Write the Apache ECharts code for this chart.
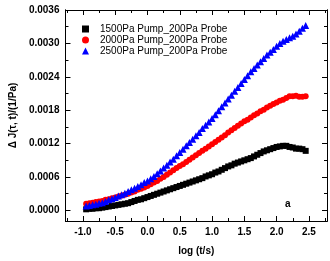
<!DOCTYPE html>
<html>
<head>
<meta charset="utf-8">
<script src="https://cdn.jsdelivr.net/npm/echarts@6/dist/echarts.min.js"></script>
<style>html,body{margin:0;padding:0;background:#fff}#c{width:330px;height:261px}</style>
</head>
<body>
<div id="c"></div>
<script>
const logT = [-0.95,-0.90,-0.85,-0.80,-0.75,-0.70,-0.65,-0.60,-0.55,-0.50,-0.45,-0.40,-0.35,-0.30,-0.25,-0.20,-0.15,-0.10,-0.05,0.00,0.05,0.10,0.15,0.20,0.25,0.30,0.35,0.40,0.45,0.50,0.55,0.60,0.65,0.70,0.75,0.80,0.85,0.90,0.95,1.00,1.05,1.10,1.15,1.20,1.25,1.30,1.35,1.40,1.45,1.50,1.55,1.60,1.65,1.70,1.75,1.80,1.85,1.90,1.95,2.00,2.05,2.10,2.15,2.20,2.25,2.30,2.35,2.40,2.45];
const j1500 = [0.00002,0.00003,0.00003,0.00004,0.00004,0.00005,0.00006,0.00007,0.00008,0.00009,0.00010,0.00011,0.00012,0.00013,0.00015,0.00017,0.00019,0.00020,0.00022,0.00024,0.00026,0.00028,0.00030,0.00032,0.00034,0.00036,0.00038,0.00040,0.00042,0.00044,0.00046,0.00048,0.00050,0.00052,0.00054,0.00056,0.00058,0.00061,0.00063,0.00065,0.00068,0.00070,0.00073,0.00076,0.00079,0.00081,0.00084,0.00086,0.00088,0.00090,0.00092,0.00094,0.00097,0.00100,0.00103,0.00106,0.00108,0.00110,0.00112,0.00114,0.00115,0.00116,0.00116,0.00114,0.00113,0.00111,0.00111,0.00110,0.00107];
const j2000 = [0.00012,0.00013,0.00014,0.00015,0.00016,0.00017,0.00019,0.00020,0.00022,0.00023,0.00025,0.00027,0.00028,0.00030,0.00032,0.00034,0.00037,0.00039,0.00041,0.00044,0.00047,0.00050,0.00053,0.00057,0.00060,0.00064,0.00068,0.00072,0.00076,0.00080,0.00083,0.00087,0.00091,0.00095,0.00099,0.00103,0.00107,0.00111,0.00115,0.00119,0.00123,0.00127,0.00131,0.00135,0.00140,0.00144,0.00148,0.00152,0.00156,0.00160,0.00163,0.00167,0.00171,0.00174,0.00178,0.00181,0.00185,0.00188,0.00191,0.00194,0.00197,0.00199,0.00202,0.00205,0.00205,0.00206,0.00204,0.00204,0.00205];
const j2500 = [0.00008,0.00009,0.00010,0.00011,0.00013,0.00014,0.00016,0.00019,0.00021,0.00023,0.00026,0.00028,0.00031,0.00034,0.00037,0.00040,0.00043,0.00046,0.00050,0.00053,0.00057,0.00061,0.00066,0.00071,0.00076,0.00081,0.00087,0.00092,0.00098,0.00104,0.00110,0.00116,0.00122,0.00128,0.00134,0.00140,0.00147,0.00153,0.00159,0.00165,0.00172,0.00179,0.00186,0.00193,0.00200,0.00207,0.00214,0.00221,0.00228,0.00235,0.00242,0.00249,0.00255,0.00261,0.00267,0.00273,0.00279,0.00284,0.00289,0.00295,0.00300,0.00304,0.00307,0.00310,0.00313,0.00317,0.00322,0.00327,0.00332];
const seriesNames = ['1500Pa Pump_200Pa Probe','2000Pa Pump_200Pa Probe','2500Pa Pump_200Pa Probe'];
const xMajor = [-1.0,-0.5,0.0,0.5,1.0,1.5,2.0,2.5];
const xMinor = [-1.25,-0.75,-0.25,0.25,0.75,1.25,1.75,2.25,2.75];
const yMajor = [0,0.0006,0.0012,0.0018,0.0024,0.0030,0.0036];
const yMinor = [0.0003,0.0009,0.0015,0.0021,0.0027,0.0033];
const xTitle = 'log (t/s)';
const yTitle = 'Δ J(τ, t)/(1/Pa)';
const panelTag = 'a';

const FONT = 'Liberation Sans, Arial, sans-serif';
const X_MIN = -1.27, X_MAX = 2.78, Y_MIN = -0.00019, Y_MAX = 0.0036;

function xAx(pos, values, len, labels, extra) {
  return Object.assign({
    type: 'value', position: pos, min: X_MIN, max: X_MAX,
    axisLine: { show: true, onZero: false, lineStyle: { color: '#000', width: 1 } },
    axisTick: { show: true, inside: true, length: len, customValues: values, lineStyle: { color: '#000' } },
    axisLabel: labels ? { show: true, customValues: xMajor, color: '#000', fontSize: 10, fontFamily: FONT, fontWeight: 'bold', margin: 6, formatter: v => v.toFixed(1) } : { show: false },
    splitLine: { show: false }
  }, extra || {});
}
function yAx(pos, values, len, labels, extra) {
  return Object.assign({
    type: 'value', position: pos, min: Y_MIN, max: Y_MAX,
    axisLine: { show: true, onZero: false, lineStyle: { color: '#000', width: 1 } },
    axisTick: { show: true, inside: true, length: len, customValues: values, lineStyle: { color: '#000' } },
    axisLabel: labels ? { show: true, customValues: yMajor, color: '#000', fontSize: 10, fontFamily: FONT, fontWeight: 'bold', margin: 6, formatter: v => v.toFixed(4) } : { show: false },
    splitLine: { show: false }
  }, extra || {});
}

const chart = echarts.init(document.getElementById('c'), null, { renderer: 'canvas' });
const colors = ['#000000', '#ff0000', '#0000ff'];
const symbols = ['rect', 'circle', 'triangle'];
const sizes = [6, 6, 7];
const datasets = [j1500, j2000, j2500];
chart.setOption({
  animation: false,
  backgroundColor: '#fff',
  grid: { left: 59, right: 3, top: 10, bottom: 35 },
  legend: {
    orient: 'vertical', left: 82, top: 24, padding: 0, itemWidth: 7, itemHeight: 7, itemGap: 1,
    textStyle: { fontSize: 10, fontFamily: FONT, color: '#000', padding: [0, 0, 0, 6] },
    data: seriesNames.map((n, i) => ({ name: n, icon: symbols[i] }))
  },
  xAxis: [
    xAx('bottom', xMajor, 5, true, { name: xTitle, nameLocation: 'middle', nameGap: 25, nameTextStyle: { fontSize: 10, fontFamily: FONT, fontWeight: 'bold', color: '#000' } }),
    xAx('top', xMajor, 5, false),
    xAx('bottom', xMinor, 3, false),
    xAx('top', xMinor, 3, false)
  ],
  yAxis: [
    yAx('left', yMajor, 5, true, { name: yTitle, nameLocation: 'middle', nameGap: 45, nameRotate: 90, nameTextStyle: { fontSize: 10, fontFamily: FONT, fontWeight: 'bold', color: '#000' } }),
    yAx('right', yMajor, 5, false),
    yAx('left', yMinor, 3, false),
    yAx('right', yMinor, 3, false)
  ],
  series: seriesNames.map((n, i) => ({
    name: n, type: 'scatter', xAxisIndex: 0, yAxisIndex: 0,
    symbol: symbols[i], symbolSize: sizes[i],
    itemStyle: { color: colors[i], opacity: 1 },
    data: logT.map((t, k) => [t, datasets[i][k]])
  })),
  graphic: [{
    type: 'text', left: 285, top: 199,
    style: { text: panelTag, fontSize: 10, fontFamily: FONT, fontWeight: 'bold', fill: '#000' }
  }]
});
</script>
</body>
</html>
